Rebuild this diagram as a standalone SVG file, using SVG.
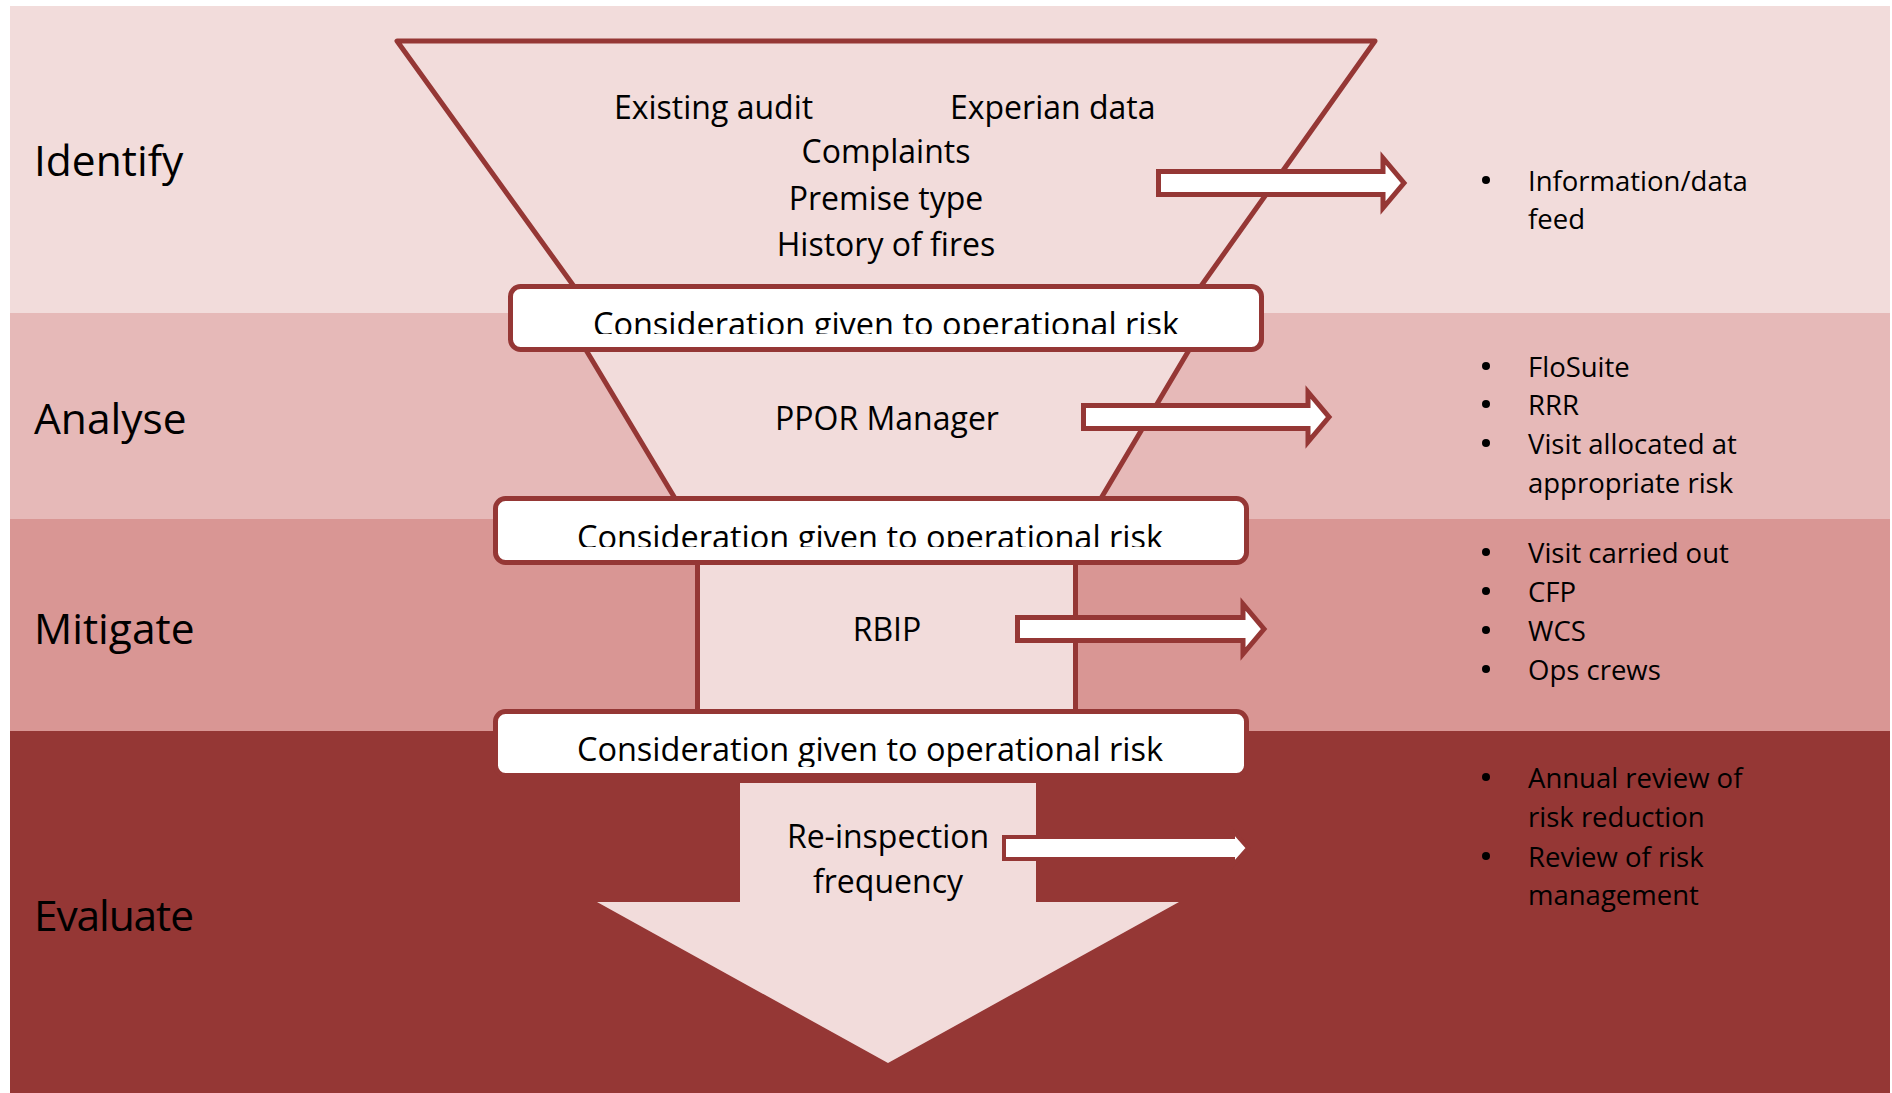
<svg xmlns="http://www.w3.org/2000/svg" width="1892" height="1093" viewBox="0 0 1892 1093">
<style>
text{font-family:"Open Sans","DejaVu Sans",sans-serif;fill:#000}
.stage{font-size:42.5px}
.mid{font-size:32px;text-anchor:middle}
.midl{font-size:32px}
.risk{font-size:32.5px;text-anchor:middle}
.bul{font-size:27.5px}
.dot{fill:#000}
.funnel{fill:#F2DCDB;stroke:#953735;stroke-width:5;stroke-linejoin:round}
.box{fill:#FFFFFF;stroke:#953735;stroke-width:5}
.rarrow{fill:#FFFFFF;stroke:#953735;stroke-width:5;stroke-linejoin:miter}
</style>
<defs>
<clipPath id="c1"><rect x="500" y="290" width="780" height="44"/></clipPath>
<clipPath id="c2"><rect x="500" y="502" width="780" height="45"/></clipPath>
<clipPath id="c3"><rect x="500" y="714" width="780" height="53"/></clipPath>
</defs>
<rect x="0" y="0" width="1892" height="1093" fill="#FFFFFF"/>
<g id="bands">
<rect x="10" y="6" width="1880" height="308" fill="#F2DCDB"/>
<rect x="10" y="313" width="1880" height="207" fill="#E6B9B8"/>
<rect x="10" y="519" width="1880" height="213" fill="#D99694"/>
<rect x="10" y="731" width="1880" height="362" fill="#953735"/>
</g>
<g id="stage-identify"><text class="stage" x="34" y="176">Identify</text></g>
<g id="stage-analyse"><text class="stage" x="34" y="434">Analyse</text></g>
<g id="stage-mitigate"><text class="stage" x="34" y="644">Mitigate</text></g>
<g id="stage-evaluate"><text class="stage" x="34" y="931" textLength="160">Evaluate</text></g>
<g id="funnel-identify">
<polygon class="funnel" points="397,41 1375,41 1184,310 591,310"/>
<text class="midl" x="614" y="119">Existing audit</text>
<text class="midl" x="950" y="119">Experian data</text>
<text class="mid" x="886" y="163">Complaints</text>
<text class="mid" x="886" y="210">Premise type</text>
<text class="mid" x="886" y="256">History of fires</text>
</g>
<g id="funnel-analyse">
<polygon class="funnel" points="583,345 1192,345 1100,500 676,500"/>
<text class="mid" x="887" y="430">PPOR Manager</text>
</g>
<g id="funnel-mitigate">
<rect class="funnel" x="697.5" y="558" width="378" height="155"/>
<text class="mid" x="887" y="641">RBIP</text>
</g>
<g id="funnel-evaluate">
<polygon fill="#F2DCDB" points="740,783 1036,783 1036,902 1179,902 888,1063 597,902 740,902"/>
<text class="mid" x="888" y="848">Re-inspection</text>
<text class="mid" x="888" y="893">frequency</text>
</g>
<g id="risk-box-1">
<rect class="box" x="510.5" y="286.5" width="751" height="63" rx="10"/>
<text class="risk" x="886" y="336" clip-path="url(#c1)">Consideration given to operational risk</text>
</g>
<g id="risk-box-2">
<rect class="box" x="495.5" y="498.5" width="751" height="64" rx="10"/>
<text class="risk" x="870" y="549" clip-path="url(#c2)">Consideration given to operational risk</text>
</g>
<g id="risk-box-3">
<rect class="box" x="495.5" y="711.5" width="751" height="64" rx="10"/>
<text class="risk" x="870" y="761" clip-path="url(#c3)">Consideration given to operational risk</text>
</g>
<g id="connectors">
<polygon class="rarrow" points="1158.5,171.5 1383,171.5 1383,158 1404,183 1383,208 1383,194.5 1158.5,194.5"/>
<polygon class="rarrow" points="1083.5,405.5 1308,405.5 1308,392 1329,417 1308,442 1308,428.5 1083.5,428.5"/>
<polygon class="rarrow" points="1017.5,617.5 1243,617.5 1243,604 1264,629 1243,654 1243,640.5 1017.5,640.5"/>
<polygon fill="#FFFFFF" stroke="#953735" stroke-width="4" points="1004,837 1233,837 1233,831 1248,848 1233,865 1233,859 1004,859"/>
</g>
<g id="notes-identify">
<circle class="dot" cx="1486" cy="180" r="4"/>
<text class="bul" x="1528" y="191">Information/data</text>
<text class="bul" x="1528" y="229">feed</text>
</g>
<g id="notes-analyse">
<circle class="dot" cx="1486" cy="366" r="4"/>
<text class="bul" x="1528" y="377">FloSuite</text>
<circle class="dot" cx="1486" cy="404" r="4"/>
<text class="bul" x="1528" y="415">RRR</text>
<circle class="dot" cx="1486" cy="443" r="4"/>
<text class="bul" x="1528" y="454">Visit allocated at</text>
<text class="bul" x="1528" y="493">appropriate risk</text>
</g>
<g id="notes-mitigate">
<circle class="dot" cx="1486" cy="552" r="4"/>
<text class="bul" x="1528" y="563">Visit carried out</text>
<circle class="dot" cx="1486" cy="591" r="4"/>
<text class="bul" x="1528" y="602">CFP</text>
<circle class="dot" cx="1486" cy="630" r="4"/>
<text class="bul" x="1528" y="641">WCS</text>
<circle class="dot" cx="1486" cy="669" r="4"/>
<text class="bul" x="1528" y="680">Ops crews</text>
</g>
<g id="notes-evaluate">
<circle class="dot" cx="1486" cy="777" r="4"/>
<text class="bul" x="1528" y="788">Annual review of</text>
<text class="bul" x="1528" y="827">risk reduction</text>
<circle class="dot" cx="1486" cy="856" r="4"/>
<text class="bul" x="1528" y="867">Review of risk</text>
<text class="bul" x="1528" y="905">management</text>
</g>
</svg>
